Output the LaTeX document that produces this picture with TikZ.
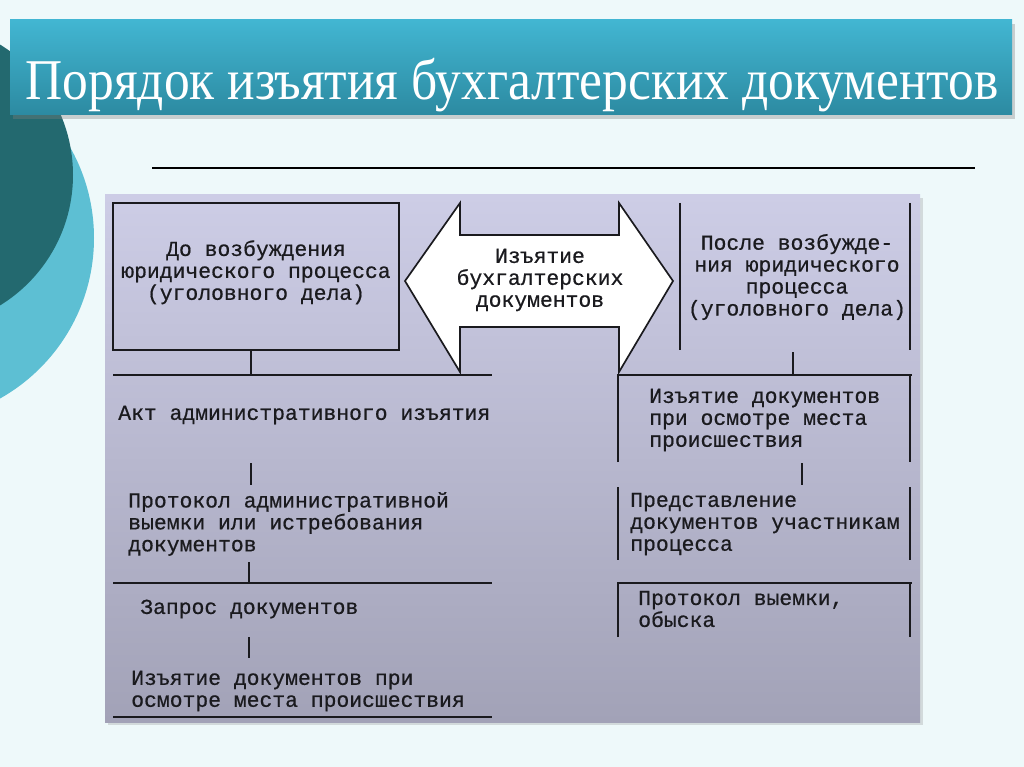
\documentclass[tikz,border=0pt]{standalone}
\usepackage{fontspec}
\setmainfont{Liberation Serif}
\newfontfamily\slabfont[FakeBold=0.6]{Liberation Mono}
\usepackage{xcolor}
\usetikzlibrary{positioning,calc,shadows}
\definecolor{pagebg}{HTML}{EEF9FA}
\definecolor{darkteal}{HTML}{23696F}
\definecolor{lightcyan}{HTML}{5DBFD3}
\definecolor{titletop}{HTML}{42B6D2}
\definecolor{titlebot}{HTML}{2C8AA1}
\definecolor{paneltop}{HTML}{CDCDE6}
\definecolor{panelbot}{HTML}{A2A2B7}
\definecolor{inkgray}{HTML}{1A1A1E}
\tikzset{
    % text styles
    slab/.style={font=\slabfont\fontsize{15.2}{15.6}\selectfont, text=inkgray, inner sep=0pt},
    slab left/.style={slab, align=left, anchor=west},
    slab centre/.style={slab, align=center},
    % line styles
    rule/.style={draw=inkgray, line width=1.2pt},
    tick/.style={draw=inkgray, line width=1.4pt},
}

\begin{document}
\begin{tikzpicture}[x=0.025cm, y=-0.025cm]
    \useasboundingbox[fill=pagebg] (0,0) rectangle (1024,767);

    % Side decoration
    \fill[lightcyan] (-90,238) circle[radius=184];
    \fill[darkteal] (-80,175) circle[radius=153];

    % Title bar
    \shade[top color=titletop, bottom color=titlebot,
           drop shadow={opacity=0.35, shadow xshift=2pt, shadow yshift=-3pt}]
        (10,20) rectangle (1012,115);
    \node[font=\fontsize{36.6}{40}\selectfont, text=white, anchor=base, yscale=1.12, transform shape]
        (title) at (512,100) {Порядок изъятия бухгалтерских документов};
    \draw[line width=1pt] (152,168) -- (975,168);

    % Panel
    \shade[top color=paneltop, bottom color=panelbot,
           drop shadow={opacity=0.25, shadow xshift=2pt, shadow yshift=-2pt}]
        (105,195) rectangle (920,722);

    % Top row
    \node[rule, slab centre, minimum width=7.15cm, minimum height=3.675cm] (before) at (256,276.5)
        {До возбуждения\\юридического процесса\\(уголовного дела)\\[-6.4pt]};
    \filldraw[fill=white, rule] (405,281) -- (460,203) -- (460,235) -- (619,235) -- (619,203)
        -- (673,281) -- (619,372) -- (619,327) -- (460,327) -- (460,372) -- cycle;
    \node[slab centre] (seize) at (540,280) {Изъятие\\бухгалтерских\\документов};
    \node[slab centre] (after) at (797,277) {После возбужде-\\ния юридического\\процесса\\(уголовного дела)};
    \draw[tick] (680,203) -- (680,350);
    \draw[tick] (910,203) -- (910,350);

    % Left column
    \coordinate (lbarw) at (113,375);
    \coordinate (lbare) at (492,375);
    \coordinate (lmidw) at (113,583);
    \coordinate (lmide) at (492,583);
    \coordinate (lbotw) at (113,717);
    \coordinate (lbote) at (492,717);
    \draw[rule] (lbarw) -- (lbare);
    \draw[rule] (lmidw) -- (lmide);
    \draw[rule] (lbotw) -- (lbote);
    \node[slab left] (actadm) at (118,415) {Акт административного изъятия};
    \node[slab left] (protadm) at (128,524) {Протокол административной\\выемки или истребования\\документов};
    \node[slab left] (request) at (140,609) {Запрос документов};
    \node[slab left] (sceneleft) at (131,691) {Изъятие документов при\\осмотре места происшествия};
    \coordinate (t0) at (251,375);
    \coordinate (t1a) at (251,463); \coordinate (t1b) at (251,485);
    \coordinate (t2a) at (249,562); \coordinate (t2b) at (249,583);
    \coordinate (t3a) at (249,637); \coordinate (t3b) at (249,658);
    \draw[tick] (before.south -| t0) -- (t0);
    \draw[tick] (t1a) -- (t1b);
    \draw[tick] (t2a) -- (t2b);
    \draw[tick] (t3a) -- (t3b);

    % Right column
    \coordinate (rtopw) at (618,375);
    \coordinate (rtope) at (912,375);
    \coordinate (rtopsw) at (618,462);
    \coordinate (rlow) at (618,583);
    \coordinate (rloe) at (912,583);
    \coordinate (rlosw) at (618,637);
    \coordinate (t5a) at (793,352); \coordinate (t5b) at (793,375);
    \coordinate (t4a) at (802,463); \coordinate (t4b) at (802,485);
    \draw[tick] (t5a) -- (t5b);
    \draw[rule] (rtopsw) -- (rtopw) -- (rtope);
    \draw[tick] (910,375) -- (910,462);
    \draw[tick] (618,487) -- (618,560);
    \draw[tick] (910,487) -- (910,560);
    \draw[rule] (rlosw) -- (rlow) -- (rloe);
    \draw[tick] (910,583) -- (910,637);
    \draw[tick] (t4a) -- (t4b);
    \node[slab left] (scene) at (649,420) {Изъятие документов\\при осмотре места\\происшествия};
    \node[slab left] (submit) at (630,524) {Представление\\документов участникам\\процесса};
    \node[slab left] (search) at (638,609) {Протокол выемки,\\обыска};
\end{tikzpicture}
\end{document}
